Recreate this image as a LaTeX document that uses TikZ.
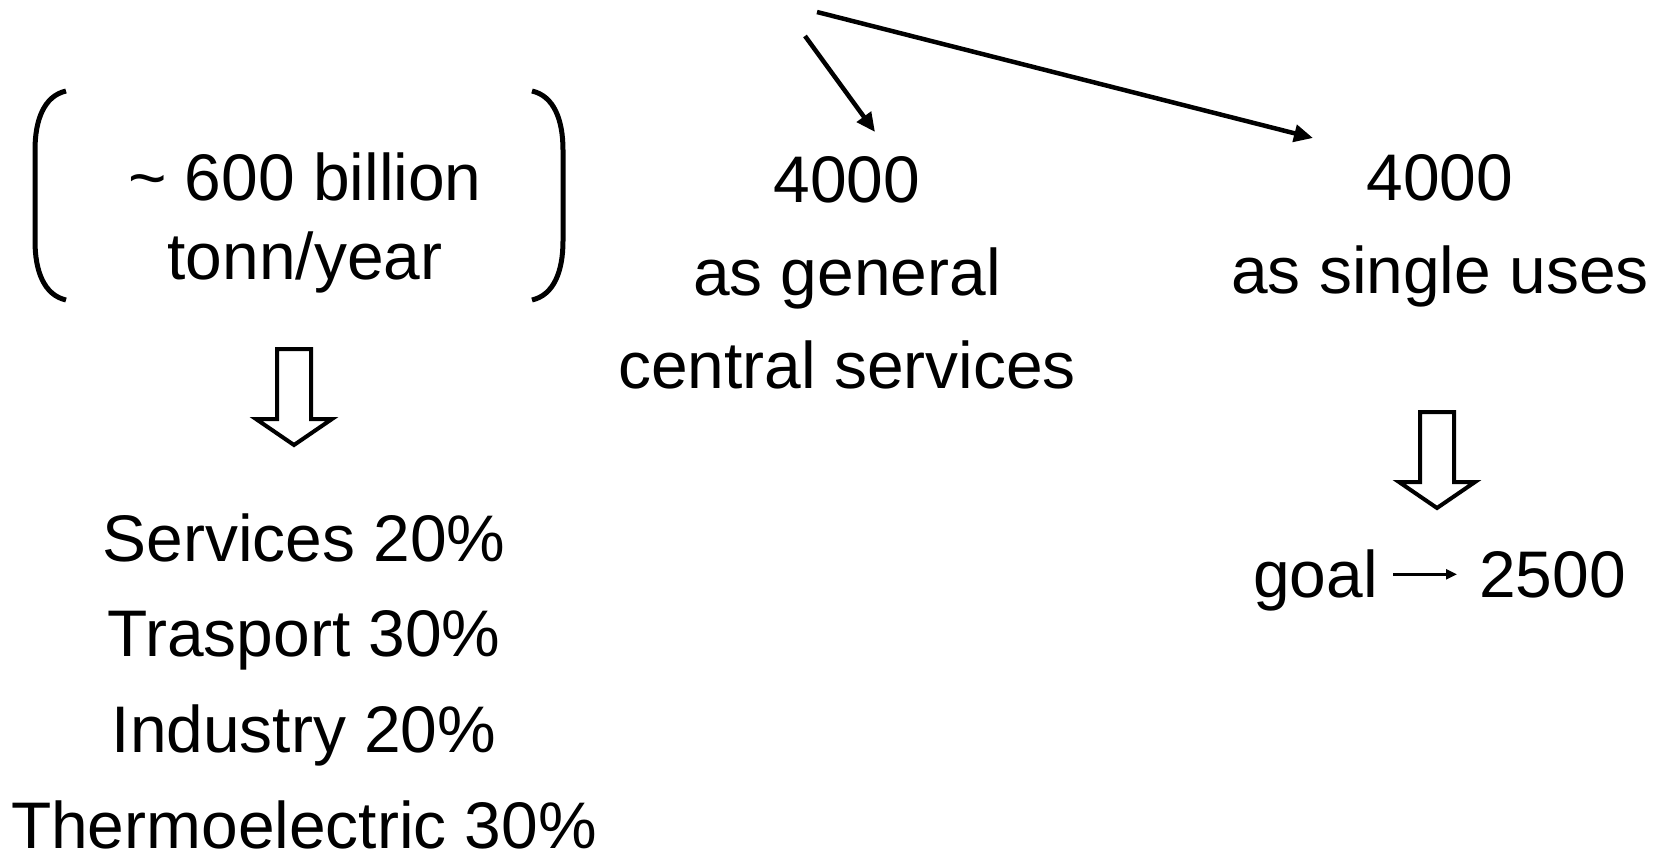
\documentclass[tikz,border=0pt]{standalone}
\usepackage{fontspec}
\setmainfont{Liberation Sans}
\usetikzlibrary{arrows.meta}

\begin{document}
\begin{tikzpicture}[x=0.02cm, y=-0.02cm, line width=0.09cm,
    txt/.style={inner sep=0pt, align=center, anchor=base},
    bigarrow/.style={-{Triangle[length=0.38cm, width=0.34cm]}},
    smallarrow/.style={-{Triangle[length=0.22cm, width=0.2cm]}, line width=0.05cm}]
    \useasboundingbox (0,0) rectangle (1667,859);
    % bracketed amount
    \draw[line width=0.1cm] (66,91) .. controls (44,96) and (35,120) .. (35,150) -- (35,241) .. controls (35,271) and (44,295) .. (66,300);
    \draw[line width=0.1cm] (532,91) .. controls (554,96) and (563,120) .. (563,150) -- (563,241) .. controls (563,271) and (554,295) .. (532,300);
    \node[txt, font=\fontsize{37.5}{44.8}\selectfont] (bill) at (305,279) {\textasciitilde{} 600 billion\\tonn/year};
    \node[txt, font=\fontsize{37.5}{54.4}\selectfont] (shares) at (304,848) {Services 20\%\\Trasport 30\%\\Industry 20\%\\Thermoelectric 30\%};
    % the two counts
    \node[txt, font=\fontsize{37.5}{52.8}\selectfont] (gen) at (847,388) {4000\\as general\\central services};
    \node[txt, font=\fontsize{37.5}{52.8}\selectfont] (single) at (1440,293) {4000\\as single uses};
    \node[txt, anchor=base east, font=\fontsize{37.5}{45}\selectfont] (goal) at (1380,597) {goal};
    \node[txt, anchor=base west, font=\fontsize{37.5}{45}\selectfont] (target) at (1477,597) {2500};
    % hollow arrows
    \foreach \x/\y in {294/349, 1437/412}{
      \draw[line width=0.08cm] (\x-17,\y) -- (\x+17,\y) -- (\x+17,\y+70) -- (\x+38,\y+70) -- (\x,\y+96) -- (\x-38,\y+70) -- (\x-17,\y+70) -- cycle;
    }
    \coordinate (top1) at (805,36);
    \coordinate (tip1) at (875,132);
    \coordinate (top2) at (817,12);
    \coordinate (tip2) at (1313,138);
    \draw[bigarrow] (top1) -- (tip1);
    \draw[bigarrow] (top2) -- (tip2);
    \draw[smallarrow, shorten <=0.26cm, shorten >=0.4cm] (target.west -| goal.east) -- (target.west);
\end{tikzpicture}
\end{document}
